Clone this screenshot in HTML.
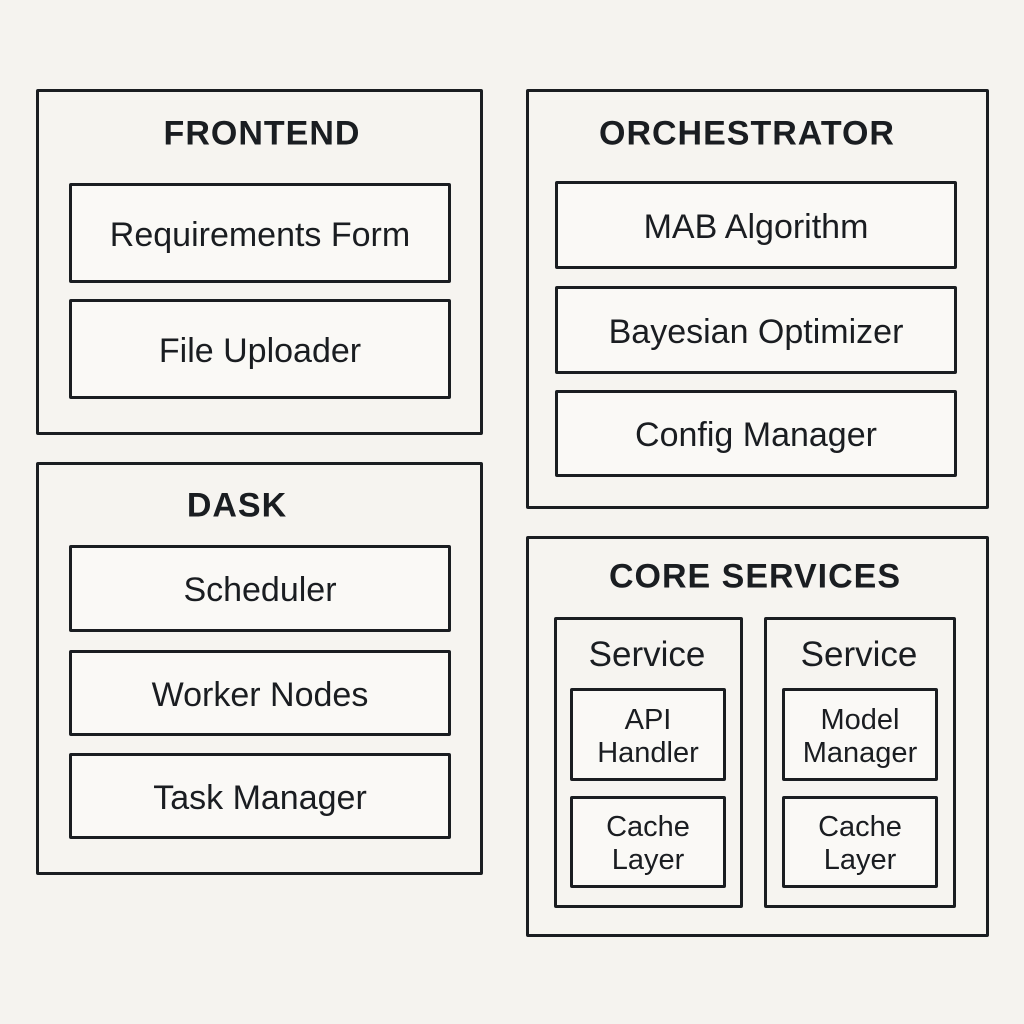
<!DOCTYPE html>
<html><head><style>
body{margin:0;width:1024px;height:1024px;background:#f5f3ef;position:relative;font-family:"Liberation Sans","DejaVu Sans",sans-serif;color:#1a1d21;overflow:hidden}
.b{position:absolute;box-sizing:border-box;border:3px solid #1a1d21;border-radius:2px;background:#f6f4f0}
.i{position:absolute;box-sizing:border-box;border:3px solid #1a1d21;border-radius:2px;background:#faf9f6;display:flex;align-items:center;justify-content:center;text-align:center;font-size:34px;padding-top:4px}
.t{position:absolute;transform:translate(-50%,-50%);font-weight:bold;font-size:34px;white-space:nowrap;letter-spacing:1px}
.s{position:absolute;transform:translate(-50%,-50%);font-size:35px;white-space:nowrap}
.sm{font-size:29px;line-height:33px}
</style></head><body>
<div class="b" style="left:36px;top:89px;width:447px;height:346px"></div>
<div class="t" style="left:262px;top:134px">FRONTEND</div>
<div class="i" style="left:69px;top:183px;width:382px;height:100px">Requirements Form</div>
<div class="i" style="left:69px;top:299px;width:382px;height:100px">File Uploader</div>

<div class="b" style="left:526px;top:89px;width:463px;height:420px"></div>
<div class="t" style="left:747px;top:134px">ORCHESTRATOR</div>
<div class="i" style="left:555px;top:181px;width:402px;height:88px">MAB Algorithm</div>
<div class="i" style="left:555px;top:286px;width:402px;height:88px">Bayesian Optimizer</div>
<div class="i" style="left:555px;top:390px;width:402px;height:87px">Config Manager</div>

<div class="b" style="left:36px;top:462px;width:447px;height:413px"></div>
<div class="t" style="left:237px;top:506px">DASK</div>
<div class="i" style="left:69px;top:545px;width:382px;height:87px">Scheduler</div>
<div class="i" style="left:69px;top:650px;width:382px;height:86px">Worker Nodes</div>
<div class="i" style="left:69px;top:753px;width:382px;height:86px">Task Manager</div>

<div class="b" style="left:526px;top:536px;width:463px;height:401px"></div>
<div class="t" style="left:755px;top:577px">CORE SERVICES</div>
<div class="b" style="left:554px;top:617px;width:189px;height:291px"></div>
<div class="s" style="left:647px;top:655px">Service</div>
<div class="i sm" style="left:570px;top:688px;width:156px;height:93px">API<br>Handler</div>
<div class="i sm" style="left:570px;top:796px;width:156px;height:92px">Cache<br>Layer</div>
<div class="b" style="left:764px;top:617px;width:192px;height:291px"></div>
<div class="s" style="left:859px;top:655px">Service</div>
<div class="i sm" style="left:782px;top:688px;width:156px;height:93px">Model<br>Manager</div>
<div class="i sm" style="left:782px;top:796px;width:156px;height:92px">Cache<br>Layer</div>
</body></html>
